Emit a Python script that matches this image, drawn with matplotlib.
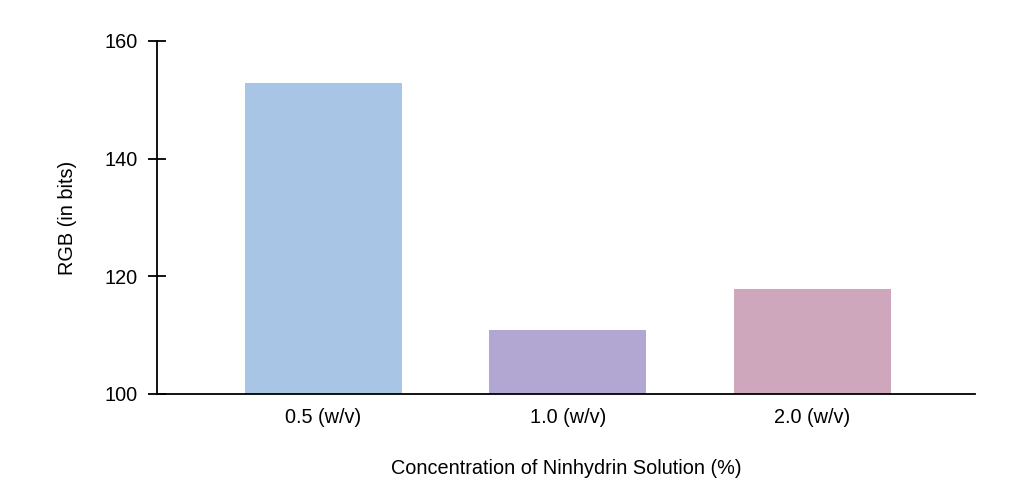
import matplotlib.pyplot as plt

plt.rcParams['font.family'] = ['Liberation Sans', 'DejaVu Sans']

# Data
konsentrasi = ['0.5 (w/v)', '1.0 (w/v)', '2.0 (w/v)']
nilai_rgb = [152.8, 110.9, 117.9]
warna = ['#a8c5e5', '#b2a7d3', '#cea7bd']

fig = plt.figure(figsize=(10.24, 5.04), dpi=100)
ax = fig.add_axes([0.1533, 0.2183, 0.7988, 0.7004])

posisi = range(len(konsentrasi))
ax.bar(posisi, [v - 100 for v in nilai_rgb], bottom=100, width=0.642, color=warna)

ax.set_xlim(-0.681, 2.665)
ax.set_ylim(100, 160)
ax.set_yticks([100, 120, 140, 160])
ax.set_xticks(list(posisi))
ax.set_xticklabels(konsentrasi)

for s in ['top', 'right']:
    ax.spines[s].set_visible(False)
ax.spines['left'].set_linewidth(1.3)
ax.spines['bottom'].set_linewidth(1.3)

ax.tick_params(axis='y', direction='inout', length=13.5, width=1.3, labelsize=14.3, pad=7)
ax.tick_params(axis='x', length=0, labelsize=14.3, pad=10)

ax.set_xlabel('Concentration of Ninhydrin Solution (%)', fontsize=14.3, labelpad=23)
ax.set_ylabel('RGB (in bits)', fontsize=14.3, labelpad=20)

fig.savefig('out.png', dpi=100)
